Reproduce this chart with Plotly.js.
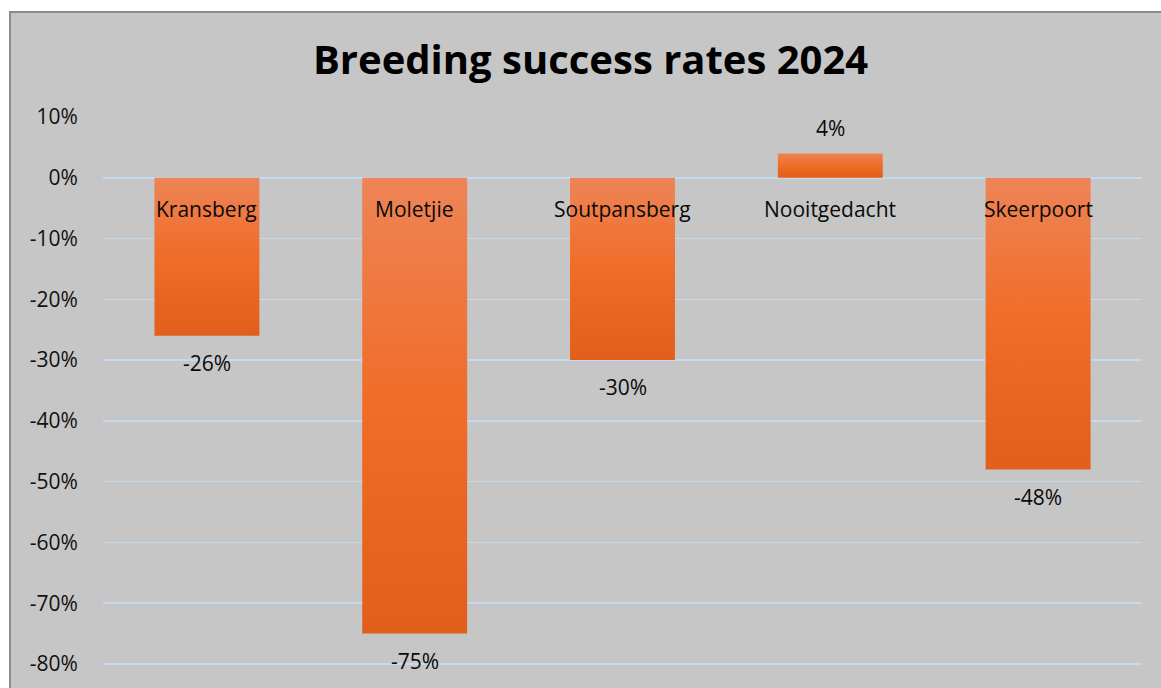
<!DOCTYPE html>
<html>
<head>
<meta charset="utf-8">
<script src="https://cdn.plot.ly/plotly-3.0.1.min.js"></script>
<style>
  html, body { margin: 0; padding: 0; background: #ffffff; overflow: hidden; }
  #frame { position: absolute; left: 9px; top: 11px; width: 1152px; height: 677px;
           border-left: 2px solid #8c8c8c; border-top: 2px solid #8c8c8c; background: #c6c6c6; }
  #chart { width: 1150px; height: 675px; }
</style>
</head>
<body>
<div id="frame"><div id="chart"></div></div>
<script>
const categories = ["Kransberg", "Moletjie", "Soutpansberg", "Nooitgedacht", "Skeerpoort"];
const successRates = [-0.26, -0.75, -0.30, 0.04, -0.48];
const valueLabels = ["-26%", "-75%", "-30%", "4%", "-48%"];
const tickValues = [0.1, 0, -0.1, -0.2, -0.3, -0.4, -0.5, -0.6, -0.7, -0.8];
const tickLabels = ["10%", "0%", "-10%", "-20%", "-30%", "-40%", "-50%", "-60%", "-70%", "-80%"];
const chartTitle = "Breeding success rates 2024";

const FONT = "'Open Sans', 'Liberation Sans', sans-serif";

const trace = {
  type: "bar",
  x: categories,
  y: successRates,
  marker: { color: "#EE7433", line: { width: 0 } },
  hoverinfo: "x+y"
};

const annotations = [];
categories.forEach((c, i) => {
  annotations.push({
    x: c, y: 0, xref: "x", yref: "y", text: c, showarrow: false,
    yanchor: "middle", yshift: -31,
    font: { family: FONT, size: 21, color: "#0a0a0a" }
  });
  const v = successRates[i];
  annotations.push({
    x: c, y: v, xref: "x", yref: "y", text: valueLabels[i], showarrow: false,
    yanchor: "middle", yshift: v >= 0 ? 25 : -27,
    font: { family: FONT, size: 21, color: "#0a0a0a" }
  });
});

const layout = {
  width: 1150, height: 675,
  paper_bgcolor: "#c6c6c6", plot_bgcolor: "#c6c6c6",
  margin: { l: 91.5, r: 18.5, t: 104, b: 0 },
  title: {
    text: "<b>" + chartTitle + "</b>",
    font: { family: FONT, size: 40, color: "#000000" },
    x: 0.504, xanchor: "center", xref: "container",
    y: 1 - 47 / 675, yanchor: "middle", yref: "container"
  },
  bargap: 0.495,
  showlegend: false,
  xaxis: {
    type: "category", range: [-0.5, 4.5], showticklabels: false,
    showgrid: false, zeroline: false, showline: false, ticks: ""
  },
  yaxis: {
    range: [-0.8395, 0.1], tickmode: "array", tickvals: tickValues, ticktext: tickLabels,
    showgrid: true, gridcolor: "#C5D9EF", gridwidth: 1.6,
    zeroline: false, showline: false, ticks: "outside", ticklen: 20,
    tickcolor: "rgba(0,0,0,0)",
    tickfont: { family: FONT, size: 21, color: "#111111" }
  },
  annotations: annotations
};

function applyGradient(gd) {
  const svg = gd.querySelector("svg.main-svg");
  if (!svg) return;
  const ns = "http://www.w3.org/2000/svg";
  let defs = svg.querySelector("defs");
  if (!defs) { defs = document.createElementNS(ns, "defs"); svg.insertBefore(defs, svg.firstChild); }
  if (!svg.querySelector("#barGrad")) {
    const g = document.createElementNS(ns, "linearGradient");
    g.setAttribute("id", "barGrad");
    g.setAttribute("x1", "0"); g.setAttribute("y1", "0");
    g.setAttribute("x2", "0"); g.setAttribute("y2", "1");
    [["0", "#EE8457"], ["0.5", "#F06C27"], ["1", "#E15F1A"]].forEach(([o, col]) => {
      const s = document.createElementNS(ns, "stop");
      s.setAttribute("offset", o); s.setAttribute("stop-color", col);
      g.appendChild(s);
    });
    defs.appendChild(g);
  }
  gd.querySelectorAll(".trace.bars .point path").forEach(p => {
    p.style.fill = "url(#barGrad)";
  });
}

Plotly.newPlot("chart", [trace], layout, { displayModeBar: false, staticPlot: true })
  .then(gd => applyGradient(gd));
</script>
</body>
</html>
